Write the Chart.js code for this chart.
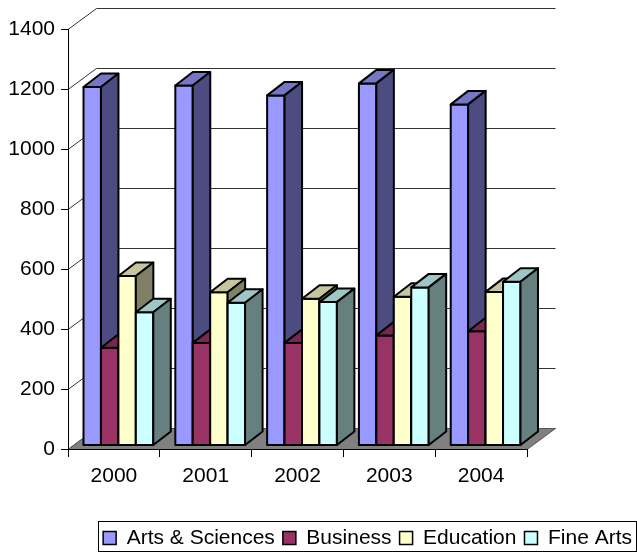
<!DOCTYPE html>
<html><head><meta charset="utf-8">
<script src="https://cdn.jsdelivr.net/npm/chart.js@4.4.0/dist/chart.umd.min.js"></script>
<style>html,body{margin:0;padding:0;background:#fff;} #wrap{width:637px;height:552px;position:relative;}</style>
</head><body><div id="wrap"><canvas id="c" width="637" height="552"></canvas></div>
<script>
const categories = ['2000', '2001', '2002', '2003', '2004'];
const seriesNames = ['Arts & Sciences', 'Business', 'Education', 'Fine Arts'];
const artsSciences = [1195, 1200, 1167, 1207, 1137];
const business = [326, 342, 342, 367, 381];
const education = [565, 511, 489, 496, 512];
const fineArts = [444, 476, 478, 527, 546];
const yTicks = [0, 200, 400, 600, 800, 1000, 1200, 1400];

const frontColors = ['#9999FF', '#993366', '#FFFFCC', '#CCFFFF'];
const topColors = ['#7676C6', '#772850', '#C6C69E', '#9EC6C6'];
const sideColors = ['#4C4C80', '#4C1933', '#808066', '#668080'];

const FONT = {family: '"Liberation Sans", Arial, sans-serif', size: 21};
const LEGEND_FONT = {family: '"Liberation Sans", Arial, sans-serif', size: 21};
const WALL = {dx: 28.5, dy: -21};
const BAR = {ox: 4.5, oy: -3.5, dx: 17.5, dy: -13.5};

function poly(ctx, pts, fill) {
  ctx.beginPath();
  ctx.moveTo(pts[0][0], pts[0][1]);
  for (let i = 1; i < pts.length; i++) ctx.lineTo(pts[i][0], pts[i][1]);
  ctx.closePath();
  ctx.fillStyle = fill;
  ctx.fill();
  ctx.stroke();
}

const threeD = {
  id: 'threeD',
  afterLayout(chart) {
    const lg = chart.legend;
    const pad = lg.options.labels.padding;
    lg.top = 538 - LEGEND_FONT.size / 2 - pad;
    lg.bottom = lg.top + lg.height;
    lg.right = 632 + pad;
    lg.left = lg.right - lg.width;
  },
  beforeDraw(chart) {
    const {ctx, chartArea: a, scales: {y}} = chart;
    ctx.save();
    ctx.lineWidth = 1;
    ctx.strokeStyle = '#333';
    yTicks.forEach(v => {
      const py = Math.round(y.getPixelForValue(v)) + 0.5;
      ctx.beginPath();
      ctx.moveTo(a.left, py);
      ctx.lineTo(a.left + WALL.dx, py + WALL.dy);
      ctx.lineTo(a.right + WALL.dx, py + WALL.dy);
      ctx.stroke();
    });
    const p0 = Math.round(y.getPixelForValue(0)) + 0.5;
    ctx.strokeStyle = '#555';
    poly(ctx, [[a.left, p0], [a.right, p0], [a.right + WALL.dx, p0 + WALL.dy], [a.left + WALL.dx, p0 + WALL.dy]], '#808080');
    ctx.restore();
  },
  beforeDatasetsDraw(chart) {
    const ctx = chart.ctx;
    const metas = chart.data.datasets.map((d, i) => chart.getDatasetMeta(i));
    ctx.save();
    ctx.lineWidth = 2;
    ctx.strokeStyle = '#000';
    ctx.lineJoin = 'round';
    for (let i = 0; i < categories.length; i++) {
      metas.forEach((m, di) => {
        const el = m.data[i];
        const p = el.getProps(['x', 'y', 'base', 'width'], true);
        const l = p.x - p.width / 2 + BAR.ox, r = p.x + p.width / 2 + BAR.ox;
        const t = p.y + BAR.oy, b = p.base + BAR.oy;
        poly(ctx, [[l, t], [r, t], [r, b], [l, b]], frontColors[di]);
        poly(ctx, [[l, t], [r, t], [r + BAR.dx, t + BAR.dy], [l + BAR.dx, t + BAR.dy]], topColors[di]);
        poly(ctx, [[r, t], [r + BAR.dx, t + BAR.dy], [r + BAR.dx, b + BAR.dy], [r, b]], sideColors[di]);
      });
    }
    ctx.restore();
    return false;
  },
  afterDraw(chart) {
    const hb = chart.legend.legendHitBoxes;
    if (!hb || !hb.length) return;
    const ctx = chart.ctx;
    const left = Math.round(hb[0].left - 5) + 0.5;
    const last = hb[hb.length - 1];
    const right = Math.round(last.left + last.width + 4) + 0.5;
    ctx.save();
    ctx.strokeStyle = '#000';
    ctx.lineWidth = 1;
    ctx.strokeRect(left, 521.5, right - left, 30);
    ctx.restore();
  }
};

const seriesData = [artsSciences, business, education, fineArts];

new Chart(document.getElementById('c'), {
  type: 'bar',
  data: {
    labels: categories,
    datasets: seriesNames.map((name, i) => ({
      label: name,
      data: seriesData[i],
      backgroundColor: frontColors[i],
      borderColor: '#000',
      borderWidth: 1.5,
      categoryPercentage: 0.76,
      barPercentage: 1
    }))
  },
  options: {
    responsive: false,
    animation: false,
    devicePixelRatio: 1,
    layout: {padding: {left: 0, top: 29, right: 0, bottom: 0}},
    plugins: {
      legend: {
        position: 'bottom',
        align: 'end',
        maxHeight: 60,
        labels: {font: LEGEND_FONT, color: '#000', boxWidth: 13, boxHeight: 13, padding: 8}
      },
      tooltip: {enabled: false}
    },
    scales: {
      x: {
        offset: true,
        grid: {offset: true, drawOnChartArea: false, tickLength: 8, color: '#000'},
        border: {color: '#000', width: 1},
        ticks: {font: FONT, color: '#000', padding: 7, maxRotation: 0},
        afterFit: s => { s.height = 552 - 449 - s.chart.legend.height; }
      },
      y: {
        min: 0, max: 1400,
        ticks: {stepSize: 200, font: FONT, color: '#000', padding: 6, callback: v => String(v)},
        grid: {drawOnChartArea: false, tickLength: 7, color: '#000'},
        border: {color: '#000', width: 1},
        afterFit: s => { s.width = 68; }
      },
      yRight: {
        position: 'right',
        display: true,
        grid: {display: false, drawTicks: false},
        border: {display: false},
        ticks: {display: false},
        afterFit: s => { s.width = 110; }
      }
    }
  },
  plugins: [threeD]
});
</script>
</body></html>
